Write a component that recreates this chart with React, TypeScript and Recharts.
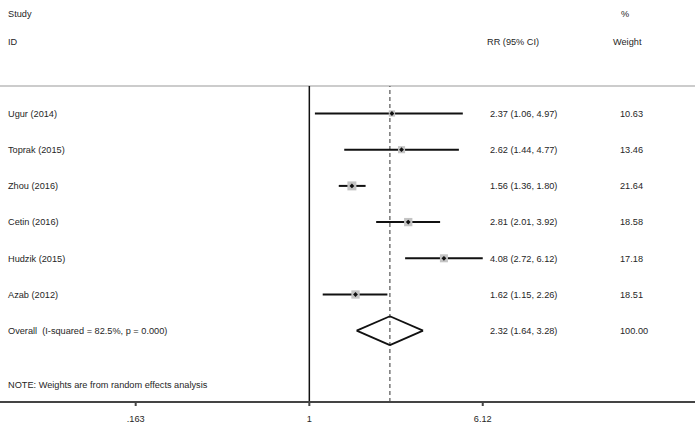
import React from 'react';
import {
  ComposedChart,
  XAxis,
  YAxis,
  Scatter,
  ReferenceLine,
  Customized,
} from 'recharts';

const studies = ['Ugur (2014)', 'Toprak (2015)', 'Zhou (2016)', 'Cetin (2016)', 'Hudzik (2015)', 'Azab (2012)'];
const rr = [2.37, 2.62, 1.56, 2.81, 4.08, 1.62];
const lower = [1.06, 1.44, 1.36, 2.01, 2.72, 1.15];
const upper = [4.97, 4.77, 1.8, 3.92, 6.12, 2.26];
const weights = [10.63, 13.46, 21.64, 18.58, 17.18, 18.51];

const overallLabel = 'Overall  (I-squared = 82.5%, p = 0.000)';
const overallRR = 2.32;
const overallLower = 1.64;
const overallUpper = 3.28;
const overallWeight = 100;

const xTicks = [0.163, 1, 6.12];
const note = 'NOTE: Weights are from random effects analysis';

const FONT = '"Liberation Sans", Arial, sans-serif';
const FS = 9.2;
const TXT = '#262626';

const fmt = (v: number) => v.toFixed(2);

const rows = studies.map((study, i) => ({
  study,
  x: rr[i],
  y: i + 1,
  lo: lower[i],
  hi: upper[i],
  label: `${fmt(rr[i])} (${fmt(lower[i])}, ${fmt(upper[i])})`,
  weight: fmt(weights[i]),
  box: weights[i],
}));

const overallRow = [
  {
    study: overallLabel,
    x: overallRR,
    y: studies.length + 1,
    label: `${fmt(overallRR)} (${fmt(overallLower)}, ${fmt(overallUpper)})`,
    weight: fmt(overallWeight),
  },
];

const RowText = ({ cy, payload }: any) => (
  <g fontFamily={FONT} fontSize={FS} fill={TXT}>
    <text x={8} y={cy} dy="0.35em" xmlSpace="preserve" style={{ whiteSpace: 'pre' }}>
      {payload.study}
    </text>
    <text x={490} y={cy} dy="0.35em">{payload.label}</text>
    <text x={620} y={cy} dy="0.35em">{payload.weight}</text>
  </g>
);

const StudyPoint = (props: any) => {
  const { cx, cy, payload } = props;
  const s = 1.93 * Math.sqrt(payload.box);
  const d = 2.4;
  return (
    <g>
      <rect x={cx - s / 2} y={cy - s / 2} width={s} height={s} fill="#c4c4c4" />
      <polygon
        points={`${cx - d},${cy} ${cx},${cy - d} ${cx + d},${cy} ${cx},${cy + d}`}
        fill="#111"
      />
      <RowText {...props} />
    </g>
  );
};

const Headers = () => (
  <g fontFamily={FONT} fontSize={FS} fill={TXT}>
    <text x={8} y={14} dy="0.35em">Study</text>
    <text x={621} y={14} dy="0.35em">%</text>
    <text x={8} y={42} dy="0.35em">ID</text>
    <text x={487} y={42} dy="0.35em">RR (95% CI)</text>
    <text x={613} y={42} dy="0.35em">Weight</text>
    <text x={8} y={385} dy="0.35em">{note}</text>
  </g>
);

const halfH = 0.4;
const dRow = studies.length + 1;
const diamond = [
  [overallLower, dRow, overallRR, dRow - halfH],
  [overallRR, dRow - halfH, overallUpper, dRow],
  [overallUpper, dRow, overallRR, dRow + halfH],
  [overallRR, dRow + halfH, overallLower, dRow],
];

const yMin = 0.24;
const yMax = 8.97;

export default function App() {
  return (
    <div style={{ position: 'absolute', left: 0, top: 0, width: 697, height: 424, background: '#fff' }}>
      <ComposedChart width={697} height={424} margin={{ top: 86, right: 2, bottom: 0, left: 0 }}>
        <XAxis
          type="number"
          dataKey="x"
          scale="log"
          domain={[0.0395, 56.2]}
          allowDataOverflow
          ticks={xTicks}
          tickFormatter={(v: number) => String(v).replace(/^0\./, '.')}
          height={22}
          stroke="#444"
          strokeWidth={2}
          tickSize={4}
          tickMargin={9}
          tick={{ fontFamily: FONT, fontSize: FS, fill: TXT }}
        />
        <YAxis type="number" dataKey="y" hide reversed domain={[yMin, yMax]} allowDataOverflow />
        <ReferenceLine y={yMin} stroke="#bbb" strokeWidth={1.5} ifOverflow="visible" />
        <ReferenceLine x={1} stroke="#111" strokeWidth={1.5} />
        <ReferenceLine x={overallRR} stroke="#555" strokeWidth={1.2} strokeDasharray="4 3" />
        {rows.map((r) => (
          <ReferenceLine
            key={r.study}
            segment={[{ x: r.lo, y: r.y }, { x: r.hi, y: r.y }]}
            stroke="#111"
            strokeWidth={2}
          />
        ))}
        {diamond.map((s, i) => (
          <ReferenceLine
            key={`d${i}`}
            segment={[{ x: s[0], y: s[1] }, { x: s[2], y: s[3] }]}
            stroke="#111"
            strokeWidth={1.8}
          />
        ))}
        <Scatter data={rows} shape={StudyPoint} isAnimationActive={false} />
        <Scatter data={overallRow} shape={RowText} isAnimationActive={false} />
        <Customized component={Headers} />
      </ComposedChart>
    </div>
  );
}
